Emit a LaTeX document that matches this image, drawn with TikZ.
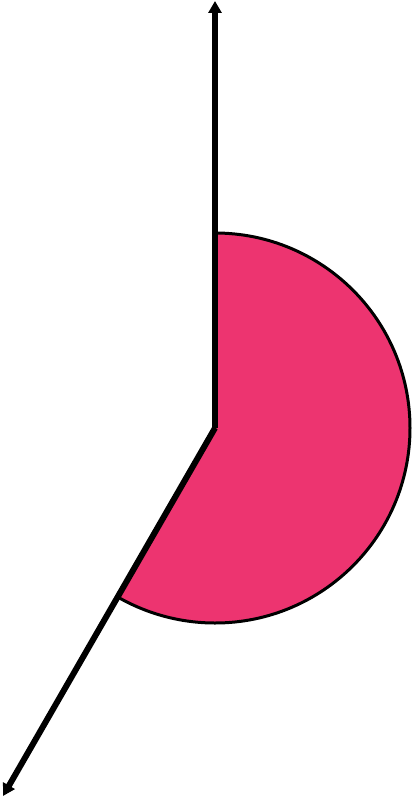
\documentclass[tikz,border=0pt]{standalone}
\usetikzlibrary{arrows.meta}
\definecolor{sectorpink}{RGB}{237,52,112}
\tikzset{
  ray/.style={line width=6pt, -{Triangle[length=12pt,width=13pt]}},
  sector/.style={fill=sectorpink, draw=black, line width=3pt, line join=round}
}
\begin{document}
\begin{tikzpicture}[x=1pt,y=-1pt]
      \useasboundingbox (0,0) rectangle (415,800);

      % Centre and ray ends
      \coordinate (O) at (215,428);
      \coordinate (top) at (215,1);
      \coordinate (tip) at (3,796);

      % Filled sector
      \draw[sector] (O) -- ++(0,-195) arc[start angle=-90, end angle=120, radius=195] -- cycle;

      % Rays
      \draw[ray] (O) -- (top);
      \draw[ray] (O) -- (tip);
    \end{tikzpicture}
\end{document}
